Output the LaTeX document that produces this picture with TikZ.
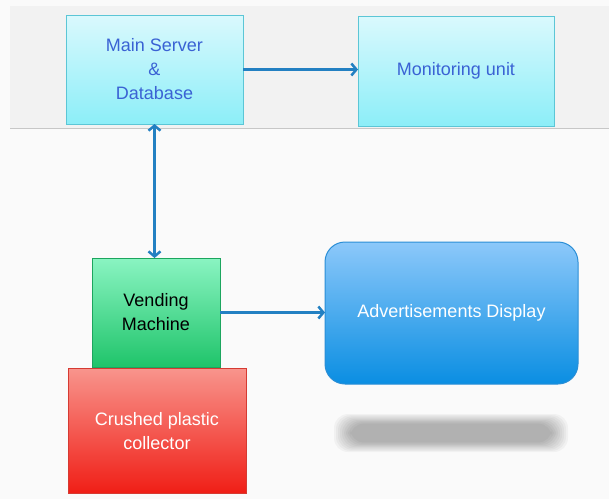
\documentclass[tikz,border=0pt]{standalone}
\usepackage{fontspec}
\setmainfont{Liberation Sans}
\usetikzlibrary{arrows.meta}

\definecolor{cyantop}{HTML}{DAF9FD}
\definecolor{cyanbot}{HTML}{8CEEF8}
\definecolor{cyanline}{HTML}{5CC6D6}
\definecolor{greentop}{HTML}{8AF4C2}
\definecolor{greenbot}{HTML}{1FC46A}
\definecolor{greenline}{HTML}{1CA55E}
\definecolor{redtop}{HTML}{F8948C}
\definecolor{redbot}{HTML}{F01E16}
\definecolor{redline}{HTML}{D63A32}
\definecolor{bluetop}{HTML}{8CC8FA}
\definecolor{bluebot}{HTML}{0A8EE2}
\definecolor{blueline}{HTML}{2A8ED6}
\definecolor{arrowblue}{HTML}{2380C2}
\definecolor{textblue}{HTML}{3A62D4}

\tikzset{
	block/.style={rectangle,inner sep=0pt,outer sep=0pt,align=center,
		line width=1pt,font=\fontsize{18}{24}\selectfont},
	barb/.tip={Straight Barb[length=5pt,width=12pt]},
	link/.style={arrowblue,line width=2.5pt,-barb},
}

\begin{document}
\begin{tikzpicture}[x=1pt,y=-1pt]
	\useasboundingbox (0,0) rectangle (609,499);

	% Background and top band
	\fill[white!98!black] (0,0) rectangle (609,499);
	\fill[white!95!black] (10,6) rectangle (609,128);
	\draw[white!78!black,line width=1.5pt] (10,128.5) -- (609,128.5);

	% Shadow under the display
	\foreach \s in {0,2,...,16}
		\fill[black,opacity=0.035,rounded corners=14pt] (334+\s,414+0.6*\s) rectangle (568-\s,452-0.6*\s);

	% Blocks
	\node[block,draw=cyanline,top color=cyantop,bottom color=cyanbot,text=textblue,
		minimum width=177pt,minimum height=109pt] (server) at (154.5,69.5) {Main Server\\\&\\Database};
	\node[block,draw=cyanline,top color=cyantop,bottom color=cyanbot,text=textblue,
		minimum width=196pt,minimum height=110pt] (monitor) at (456,71) {Monitoring unit};
	\node[block,draw=greenline,top color=greentop,bottom color=greenbot,text=black,
		minimum width=128pt,minimum height=109pt] (vending) at (156,312.5) {Vending\\Machine};
	\node[block,draw=redline,top color=redtop,bottom color=redbot,text=white,
		minimum width=178pt,minimum height=125pt] (collector) at (157,431) {Crushed plastic\\collector};
	\node[block,draw=blueline,top color=bluetop,bottom color=bluebot,text=white,rounded corners=20pt,
		minimum width=253pt,minimum height=142pt] (display) at (451.5,313) {Advertisements Display};

	% Connectors
	\draw[link] (server.east) -- (server.east -| monitor.west);
	\draw[link,barb-barb] (server.south) -- (server.south |- vending.north);
	\draw[link] (vending.east) -- (vending.east -| display.west);
\end{tikzpicture}
\end{document}
